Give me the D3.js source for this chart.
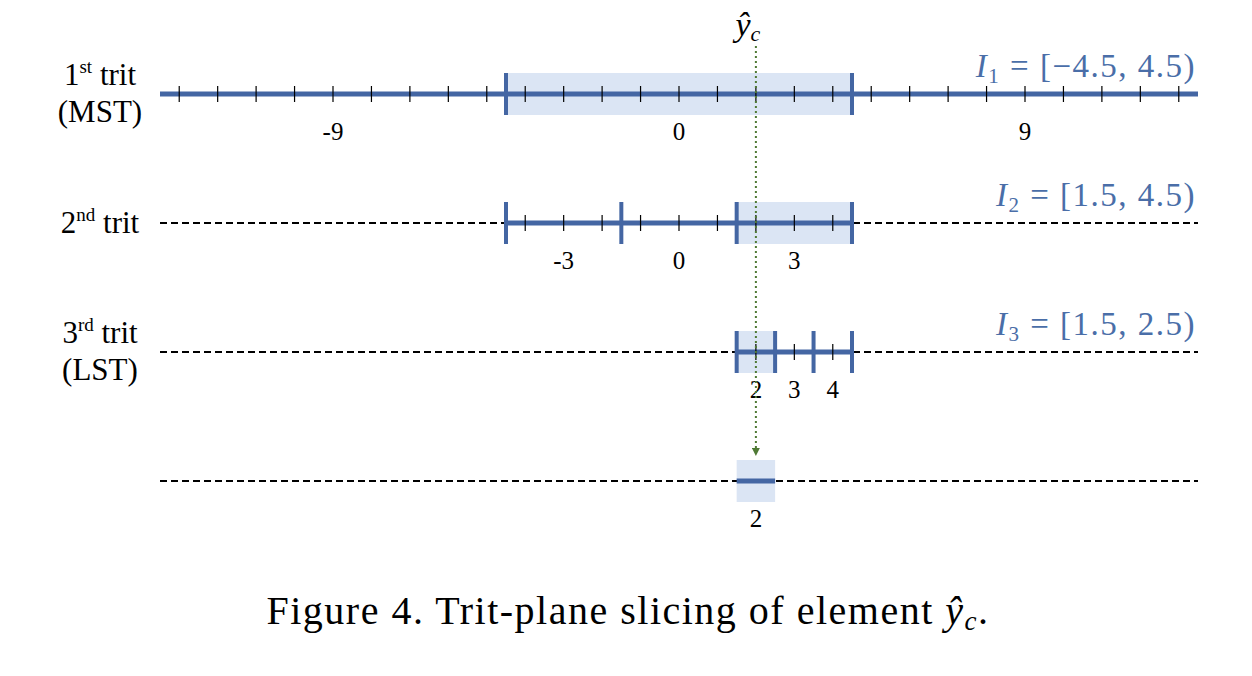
<!DOCTYPE html>
<html><head><meta charset="utf-8">
<script src="https://cdn.jsdelivr.net/npm/d3@7"></script>
<style>body{margin:0;background:#fff}text{font-family:"Liberation Serif","Times New Roman",serif}</style>
</head><body>
<svg id="main" width="1252" height="676"></svg>
<script>
// one row per trit plane
const rowNames = [["1", "st", " trit", "(MST)"], ["2", "nd", " trit", ""], ["3", "rd", " trit", "(LST)"], ["", "", "", ""]];
const rowRanges = [[-13.5, 13.5], [-4.5, 4.5], [1.5, 4.5], [1.5, 2.5]];
const rowBoxes = [[-4.5, 4.5], [1.5, 4.5], [1.5, 2.5], [1.5, 2.5]];
const bigTicks = [[-4.5, 4.5], [-4.5, -1.5, 1.5, 4.5], [1.5, 2.5, 3.5, 4.5], []];
const smallTicks = [d3.range(-13, 14), d3.range(-4, 5), [2, 3, 4], []];
const tickLabels = [[-9, 0, 9], [-3, 0, 3], [2, 3, 4], [2]];
const intervals = [["1", "[−4.5, 4.5)"], ["2", "[1.5, 4.5)"], ["3", "[1.5, 2.5)"], null];
const yHat = 2;

const blue = "#4466a3", boxFill = "#dbe5f4", labBlue = "#4a6ea8";
const svg = d3.select("#main");
const x = d3.scaleLinear().domain([-13.5, 13.5]).range([160, 1198]);
const y = d3.scalePoint().domain(d3.range(4)).range([94, 481]);

// green dotted guide
svg.append("defs").append("marker").attr("id", "arr").attr("viewBox", "0 0 10 10")
  .attr("refX", 5).attr("refY", 5).attr("markerWidth", 4).attr("markerHeight", 4).attr("orient", "auto")
  .append("path").attr("d", "M0,0L10,5L0,10z").attr("fill", "#4f7a35");

const rows = svg.selectAll(".row").data(d3.range(4)).enter().append("g")
  .attr("transform", i => `translate(0,${y(i)})`);

rows.append("rect").attr("x", i => x(rowBoxes[i][0])).attr("width", i => x(rowBoxes[i][1]) - x(rowBoxes[i][0]))
  .attr("y", -21).attr("height", 42).attr("fill", boxFill);
rows.filter(i => i > 0).append("line").attr("x1", 160).attr("x2", 1198)
  .attr("stroke", "#000").attr("stroke-width", 2).attr("stroke-dasharray", "7,4");
rows.append("line").attr("x1", i => x(rowRanges[i][0])).attr("x2", i => x(rowRanges[i][1]))
  .attr("stroke", blue).attr("stroke-width", 5);
rows.selectAll(".st").data(i => smallTicks[i]).enter().append("line")
  .attr("x1", d => x(d)).attr("x2", d => x(d)).attr("y1", -8).attr("y2", 8).attr("stroke", "#000").attr("stroke-width", 1.2);
rows.selectAll(".bt").data(i => bigTicks[i]).enter().append("line")
  .attr("x1", d => x(d)).attr("x2", d => x(d)).attr("y1", -21).attr("y2", 21).attr("stroke", blue).attr("stroke-width", 4);
rows.selectAll(".tl").data(i => tickLabels[i]).enter().append("text")
  .attr("x", d => x(d)).attr("y", 46).attr("text-anchor", "middle").attr("font-size", 25).text(d => d);

rows.each(function (i) {
  const g = d3.select(this), n = rowNames[i];
  if (n[0]) {
    const t = g.append("text").attr("x", 100).attr("y", n[3] ? -9 : 10).attr("text-anchor", "middle").attr("font-size", 31);
    t.append("tspan").text(n[0]);
    t.append("tspan").attr("font-size", 19).attr("dy", -12).text(n[1]);
    t.append("tspan").attr("dy", 12).text(n[2]);
    if (n[3]) g.append("text").attr("x", 100).attr("y", 28).attr("text-anchor", "middle").attr("font-size", 31).text(n[3]);
  }
  const iv = intervals[i];
  if (iv) {
    const t = g.append("text").attr("x", 1196).attr("y", -17).attr("text-anchor", "end").attr("font-size", 33)
      .attr("letter-spacing", 1.5).attr("fill", labBlue);
    t.append("tspan").attr("font-style", "italic").text("I");
    t.append("tspan").attr("font-size", 21).attr("dy", 6).text(iv[0]);
    t.append("tspan").attr("dy", -6).text(" = " + iv[1]);
  }
});

svg.append("line").attr("x1", x(yHat)).attr("x2", x(yHat)).attr("y1", 46).attr("y2", 452)
  .attr("stroke", "#4f7a35").attr("stroke-width", 2).attr("stroke-dasharray", "2,3").attr("marker-end", "url(#arr)");

const yh = svg.append("text").attr("x", x(yHat) - 8).attr("y", 36).attr("text-anchor", "middle").attr("font-size", 34).attr("font-style", "italic");
yh.append("tspan").text("ŷ");
yh.append("tspan").attr("font-size", 22).attr("dy", 5).text("c");

const cap = svg.append("text").attr("x", 628).attr("y", 624).attr("text-anchor", "middle").attr("font-size", 40)
  .attr("letter-spacing", 1.5);
cap.append("tspan").text("Figure 4. Trit-plane slicing of element ");
cap.append("tspan").attr("font-style", "italic").text("ŷ");
cap.append("tspan").attr("font-style", "italic").attr("font-size", 27).attr("dy", 6).text("c");
cap.append("tspan").attr("dy", -6).text(".");
</script>
</body></html>
